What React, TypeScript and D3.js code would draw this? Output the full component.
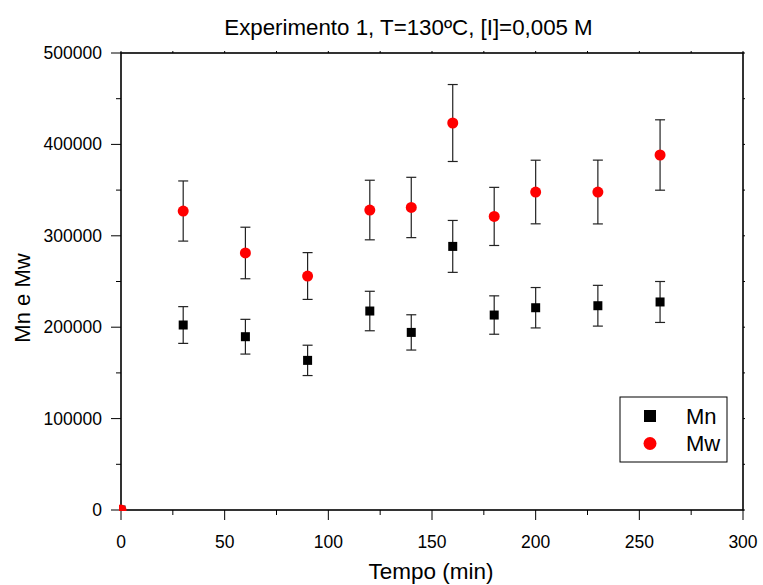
import React from "react";
import * as d3 from "d3";

const tempo = [0, 30, 60, 90, 120, 140, 160, 180, 200, 230, 260];
const mnValues = [0, 202400, 189600, 163700, 217700, 194300, 288400, 213300, 221300, 223500, 227600];
const mnErrors = [0, 20100, 19000, 16600, 21600, 19300, 28400, 21000, 22100, 22300, 22400];
const mwValues = [0, 327100, 281200, 256000, 328200, 331000, 423400, 321200, 347900, 347900, 388400];
const mwErrors = [0, 32900, 28200, 25600, 32600, 33000, 42100, 31800, 34800, 34900, 38500];
const xTicks = [0, 50, 100, 150, 200, 250, 300];
const yTicks = [0, 100000, 200000, 300000, 400000, 500000];
const titleText = "Experimento 1, T=130ºC, [I]=0,005 M";
const xTitle = "Tempo (min)";
const yTitle = "Mn e Mw";
const seriesNames = ["Mn", "Mw"];

const W = 763;
const H = 585;
const L = 121, R = 743, T = 53, B = 510;
const FONT = "Liberation Sans, Arial, Helvetica, sans-serif";

export default function App() {
  const x = d3.scaleLinear().domain([0, 300]).range([L, R]);
  const y = d3.scaleLinear().domain([0, 500000]).range([B, T]);
  const xMinor = d3.range(0, 301, 25);
  const yMinor = d3.range(0, 500001, 50000);

  const errBar = (xv: number, v: number, e: number, key: string) => {
    if (e <= 0) return null;
    const cx = x(xv);
    const y1 = y(v + e);
    const y2 = y(v - e);
    return (
      <g key={key} stroke="#222" strokeWidth={1.2}>
        <line x1={cx} x2={cx} y1={y1} y2={y2} />
        <line x1={cx - 5} x2={cx + 5} y1={y1} y2={y1} />
        <line x1={cx - 5} x2={cx + 5} y1={y2} y2={y2} />
      </g>
    );
  };

  return (
    <svg width={W} height={H} style={{ position: "absolute", left: 0, top: 0, background: "#fff" }}>
      <defs>
        <clipPath id="plotclip">
          <rect x={L - 2} y={T} width={R - L + 2} height={B - T + 1} />
        </clipPath>
      </defs>
      <rect x={0} y={0} width={W} height={H} fill="#fff" />
      <text x={408.5} y={35} textAnchor="middle" fontFamily={FONT} fontSize={22.3} fill="#000">
        {titleText}
      </text>

      {/* minor ticks */}
      <g stroke="#000" strokeWidth={1}>
        {xMinor.map((t) => (
          <g key={"xm" + t}>
            <line x1={x(t)} x2={x(t)} y1={B} y2={B + (t % 50 === 0 ? 10 : 5)} />
            <line x1={x(t)} x2={x(t)} y1={T} y2={T - 2} />
          </g>
        ))}
        {yMinor.map((t) => (
          <g key={"ym" + t}>
            <line x1={L} x2={L - (t % 100000 === 0 ? 10 : 5)} y1={y(t)} y2={y(t)} />
            <line x1={R} x2={R + 2} y1={y(t)} y2={y(t)} />
          </g>
        ))}
      </g>

      {/* frame */}
      <rect x={L} y={T} width={R - L} height={B - T} fill="none" stroke="#000" strokeWidth={1.6} />

      {/* tick labels */}
      {xTicks.map((t) => (
        <text key={"xl" + t} x={x(t)} y={548} textAnchor="middle" fontFamily={FONT} fontSize={17.5} fill="#000">
          {t}
        </text>
      ))}
      {yTicks.map((t) => (
        <text key={"yl" + t} x={102} y={y(t) + 6} textAnchor="end" fontFamily={FONT} fontSize={17.5} fill="#000">
          {t}
        </text>
      ))}

      <text x={431} y={579} textAnchor="middle" fontFamily={FONT} fontSize={22.5} fill="#000">
        {xTitle}
      </text>
      <text
        transform={`translate(30,${298}) rotate(-90)`}
        textAnchor="middle"
        fontFamily={FONT}
        fontSize={22}
        fill="#000"
      >
        {yTitle}
      </text>

      <g clipPath="url(#plotclip)">
        {tempo.map((t, i) => errBar(t, mnValues[i], mnErrors[i], "emn" + i))}
        {tempo.map((t, i) => errBar(t, mwValues[i], mwErrors[i], "emw" + i))}
        {tempo.map((t, i) => (
          <rect key={"mn" + i} x={x(t) - 4.5} y={y(mnValues[i]) - 4.5} width={9} height={9} fill="#000" />
        ))}
        {tempo.map((t, i) => (
          <circle key={"mw" + i} cx={x(t)} cy={y(mwValues[i])} r={5.5} fill="#ff0000" />
        ))}
      </g>

      {/* legend */}
      <rect x={620} y={397} width={107} height={65} fill="#fff" stroke="#000" strokeWidth={1} />
      <rect x={644} y={410} width={12} height={12} fill="#000" />
      <circle cx={650} cy={443.5} r={6.5} fill="#ff0000" />
      <text x={686} y={424} fontFamily={FONT} fontSize={22} fill="#000">
        {seriesNames[0]}
      </text>
      <text x={686} y={451} fontFamily={FONT} fontSize={22} fill="#000">
        {seriesNames[1]}
      </text>
    </svg>
  );
}
